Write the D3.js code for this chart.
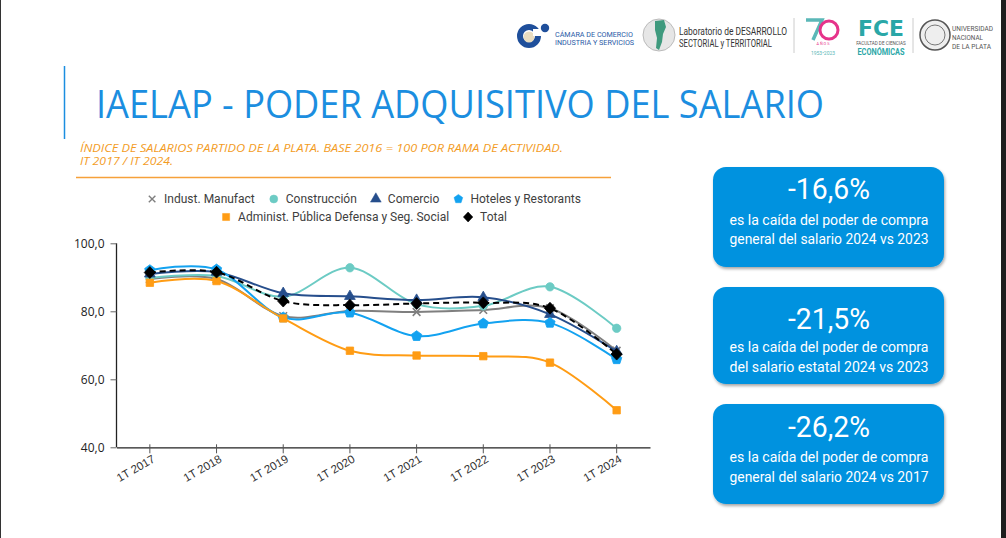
<!DOCTYPE html>
<html><head><meta charset="utf-8">
<script src="https://cdn.jsdelivr.net/npm/d3@7"></script>
<style>body{margin:0;background:#fff}svg{display:block}</style>
</head><body>
<svg id="c" width="1006" height="538"></svg>
<script>
// ---- DATA ----
const periods = ["1T 2017","1T 2018","1T 2019","1T 2020","1T 2021","1T 2022","1T 2023","1T 2024"];
const industManufact = [89.5, 89.5, 78.6, 80.1, 79.8, 80.4, 80.9, 68.4];
const construccion   = [89.8, 90.4, 84.3, 92.8, 82.1, 81.6, 87.2, 75.0];
const comercio       = [91.0, 91.5, 85.3, 84.4, 83.3, 84.1, 79.1, 68.2];
const hoteles        = [92.1, 92.3, 78.2, 79.6, 72.7, 76.4, 76.6, 65.9];
const adminPublica   = [88.4, 88.9, 77.9, 68.4, 67.0, 66.8, 64.9, 50.9];
const total          = [91.4, 91.5, 83.0, 81.8, 82.3, 82.5, 80.9, 67.4];
const seriesNames = ["Indust. Manufact","Construcción","Comercio","Hoteles y Restorants","Administ. Pública Defensa y Seg. Social","Total"];
const yTicks = [40, 60, 80, 100];
const highlightValues = ["-16,6%","-21,5%","-26,2%"];
const highlightLine1 = ["es la caída del poder de compra","es la caída del poder de compra","es la caída del poder de compra"];
const highlightLine2 = ["general del salario 2024 vs 2023","del salario estatal 2024 vs 2023","general del salario 2024 vs 2017"];

// ---- STYLE ----
const svg = d3.select("#c");
const defs = svg.append("defs");
const f = defs.append("filter").attr("id","sh").attr("x","-10%").attr("y","-10%").attr("width","130%").attr("height","140%");
f.append("feDropShadow").attr("dx",1).attr("dy",2).attr("stdDeviation",1.6).attr("flood-color","#000").attr("flood-opacity",0.35);

svg.append("rect").attr("width",1006).attr("height",538).attr("fill","#fff");
svg.append("rect").attr("x",1001).attr("y",0).attr("width",5).attr("height",538).attr("fill","#1e1e1e");
svg.append("rect").attr("x",0).attr("y",0).attr("width",1).attr("height",538).attr("fill","#333");

// ---- LOGOS (approximate) ----
const lg = svg.append("g");
// Camara
lg.append("circle").attr("cx",529).attr("cy",36).attr("r",9).attr("fill","none").attr("stroke","#1f4f9b").attr("stroke-width",6);
lg.append("circle").attr("cx",529).attr("cy",37).attr("r",5.5).attr("fill","#e8dcc0");
lg.append("rect").attr("x",533).attr("y",29).attr("width",10).attr("height",7).attr("fill","#fff");
lg.append("circle").attr("cx",545).attr("cy",28).attr("r",4.2).attr("fill","#1f4f9b");
lg.append("text").attr("x",555).attr("y",37).attr("font-family","Roboto").attr("font-size",7.2).attr("fill","#2a5aa6").text("CÁMARA DE COMERCIO");
lg.append("text").attr("x",555).attr("y",45).attr("font-family","Roboto").attr("font-size",7.2).attr("fill","#2a5aa6").text("INDUSTRIA Y SERVICIOS");
// Laboratorio
lg.append("circle").attr("cx",659).attr("cy",35).attr("r",16).attr("fill","#e6e6e6").attr("stroke","#bbb").attr("stroke-width",1);
lg.append("path").attr("d","M655,21 L664,20 L666,27 L663,34 L662,42 L659,50 L656,48 L657,38 L655,30 Z").attr("fill","#3f9a7e");
lg.append("text").attr("x",679).attr("y",35).attr("font-family","Liberation Sans Narrow, Roboto").attr("font-size",11.5).attr("fill","#333").attr("textLength",108).attr("lengthAdjust","spacingAndGlyphs").text("Laboratorio de DESARROLLO");
lg.append("text").attr("x",679).attr("y",47).attr("font-family","Liberation Sans Narrow, Roboto").attr("font-size",11.5).attr("fill","#333").attr("textLength",93).attr("lengthAdjust","spacingAndGlyphs").text("SECTORIAL y TERRITORIAL");
lg.append("line").attr("x1",794).attr("x2",794).attr("y1",18).attr("y2",53).attr("stroke","#ccc");
// 70 años
lg.append("path").attr("d","M806,20 L822,20 L813,40").attr("fill","none").attr("stroke","#5bb8b8").attr("stroke-width",3.5);
lg.append("circle").attr("cx",829).attr("cy",30).attr("r",9).attr("fill","none").attr("stroke","#e6338a").attr("stroke-width",3);
lg.append("text").attr("x",823).attr("y",45).attr("text-anchor","middle").attr("font-family","Roboto").attr("font-size",3.8).attr("fill","#e6338a").text("A Ñ O S");
lg.append("text").attr("x",823).attr("y",55).attr("text-anchor","middle").attr("font-family","Roboto").attr("font-size",5).attr("fill","#5bb8b8").text("1953•2023");
// FCE
lg.append("text").attr("x",881).attr("y",36).attr("text-anchor","middle").attr("font-family","DejaVu Sans").attr("font-weight","bold").attr("font-size",22).attr("fill","#2aa7a7").attr("textLength",46).attr("lengthAdjust","spacingAndGlyphs").text("FCE");
lg.append("text").attr("x",881).attr("y",45).attr("text-anchor","middle").attr("font-family","Roboto").attr("font-size",4.6).attr("fill","#555").text("FACULTAD DE CIENCIAS");
lg.append("text").attr("x",881).attr("y",55).attr("text-anchor","middle").attr("font-family","Roboto").attr("font-weight","bold").attr("font-size",8.5).attr("fill","#2aa7a7").attr("textLength",47).attr("lengthAdjust","spacingAndGlyphs").text("ECONÓMICAS");
lg.append("line").attr("x1",913).attr("x2",913).attr("y1",18).attr("y2",53).attr("stroke","#ccc");
// UNLP
lg.append("circle").attr("cx",935).attr("cy",35).attr("r",15).attr("fill","#eee").attr("stroke","#555").attr("stroke-width",1.5);
lg.append("circle").attr("cx",935).attr("cy",35).attr("r",10).attr("fill","none").attr("stroke","#777").attr("stroke-width",1);
[["UNIVERSIDAD",41],["NACIONAL",31],["DE LA PLATA",39]].forEach((t,i)=>lg.append("text").attr("x",952).attr("y",31+i*9).attr("font-family","Roboto").attr("font-size",7.3).attr("fill","#555")
  .attr("textLength",t[1]).attr("lengthAdjust","spacingAndGlyphs").text(t[0]));

// ---- TITLE ----
svg.append("line").attr("x1",64.5).attr("x2",64.5).attr("y1",66).attr("y2",139).attr("stroke","#1b8ee0").attr("stroke-width",1.5);
svg.append("text").attr("x",96).attr("y",118).attr("font-family","Open Sans").attr("font-size",38).attr("fill","#1b8ee0")
  .attr("textLength",728).attr("lengthAdjust","spacingAndGlyphs").text("IAELAP - PODER ADQUISITIVO DEL SALARIO");
svg.append("text").attr("x",80).attr("y",152).attr("font-family","Open Sans").attr("font-style","italic").attr("font-size",11.5).attr("fill","#f39c1f")
  .attr("textLength",483).attr("lengthAdjust","spacingAndGlyphs").text("ÍNDICE DE SALARIOS PARTIDO DE LA PLATA. BASE 2016 = 100 POR RAMA DE ACTIVIDAD.");
svg.append("text").attr("x",80).attr("y",165).attr("font-family","Open Sans").attr("font-style","italic").attr("font-size",11.5).attr("fill","#f39c1f")
  .attr("textLength",93).attr("lengthAdjust","spacingAndGlyphs").text("IT 2017 / IT 2024.");
svg.append("line").attr("x1",76).attr("x2",611).attr("y1",177.5).attr("y2",177.5).attr("stroke","#f6a13a").attr("stroke-width",1.5);

// ---- CHART ----
const x = d3.scaleBand().domain(periods).range([116.5, 650]);
const cx = d => x(d) + x.bandwidth()/2;
const y = d3.scaleLinear().domain([40, 100]).range([447.3, 243.3]);

const fmt = v => d3.format(".1f")(v).replace(".", ",");
const gy = svg.append("g").attr("transform","translate(116.5,0)")
  .call(d3.axisLeft(y).tickValues(yTicks).tickFormat(fmt).tickSize(6).tickPadding(6));
gy.select(".domain").attr("stroke","#222").attr("stroke-width",1.3).attr("d","M0,243.3V447.3");
gy.selectAll(".tick line").attr("stroke","#666");
gy.selectAll(".tick text").attr("font-family","Open Sans").attr("font-size",12).attr("fill","#222");

const gx = svg.append("g").attr("transform","translate(0,447.3)")
  .call(d3.axisBottom(x).tickSize(6).tickSizeOuter(0));
gx.select(".domain").attr("stroke","#222").attr("stroke-width",1.3);
gx.selectAll(".tick line").attr("stroke","#555").attr("y1",-3).attr("y2",6);
gx.selectAll(".tick text").attr("font-family","Liberation Sans, Arial").attr("font-size",11.5).attr("fill","#333")
  .attr("text-anchor","end").attr("dy",0).attr("y",0)
  .attr("transform","translate(6,14) rotate(-30)");

// symbols
const pent = {draw(ctx, size){ const r=Math.sqrt(size/2.378); for(let i=0;i<5;i++){const a=-Math.PI/2+i*2*Math.PI/5; const px=r*Math.cos(a), py=r*Math.sin(a); i?ctx.lineTo(px,py):ctx.moveTo(px,py);} ctx.closePath(); }};
const diam = {draw(ctx, size){ const r=Math.sqrt(size/2); ctx.moveTo(0,-r); ctx.lineTo(r*0.95,0); ctx.lineTo(0,r); ctx.lineTo(-r*0.95,0); ctx.closePath(); }};
const series = [
  {name:seriesNames[0], vals:industManufact, color:"#7f7f7f", sym:d3.symbolX, size:40, stroke:true, dash:null},
  {name:seriesNames[1], vals:construccion, color:"#6ccbc4", sym:d3.symbolCircle, size:55, dash:null},
  {name:seriesNames[2], vals:comercio, color:"#264e8c", sym:d3.symbolTriangle, size:50, dash:null},
  {name:seriesNames[3], vals:hoteles, color:"#13a2f0", sym:pent, size:70, dash:null},
  {name:seriesNames[4], vals:adminPublica, color:"#ff9c14", sym:d3.symbolSquare, size:55, dash:null},
  {name:seriesNames[5], vals:total, color:"#000000", sym:diam, size:70, dash:"6,4"}
];
const line = d3.line().x((d,i)=>cx(periods[i])).y(d=>y(d)).curve(d3.curveCardinal.tension(0));
series.forEach(s=>{
  const g = svg.append("g");
  g.append("path").attr("d",line(s.vals)).attr("fill","none").attr("stroke",s.color).attr("stroke-width",2).attr("stroke-dasharray",s.dash);
  g.selectAll("path.m").data(s.vals).join("path").attr("class","m")
    .attr("transform",(d,i)=>`translate(${cx(periods[i])},${y(d)})`)
    .attr("d",d3.symbol(s.sym,s.size))
    .attr("fill",s.stroke?"none":s.color).attr("stroke",s.color).attr("stroke-width",s.stroke?1.6:0.8);
});

// legend
const leg = svg.append("g").attr("font-family","Roboto").attr("font-size",12).attr("fill","#404040");
function legendRow(items, yy, centerX){
  const g = leg.append("g");
  let pos = 0; const parts=[];
  items.forEach(s=>{
    const t = g.append("text").attr("y",yy+4).text(s.name);
    const w = t.node().getComputedTextLength();
    parts.push({s,t,start:pos}); pos += 12 + w + 19;
  });
  const width = pos - 19 + 5;
  const x0 = centerX - width/2 + 5;
  parts.forEach(p=>{
    const mx = x0 + p.start;
    g.append("path").attr("transform",`translate(${mx},${yy})`).attr("d",d3.symbol(p.s.sym,p.s.sym===d3.symbolX?30:50))
      .attr("fill",p.s.stroke?"none":p.s.color).attr("stroke",p.s.color).attr("stroke-width",p.s.stroke?1.4:0.5);
    p.t.attr("x",mx+12);
  });
}
legendRow(series.slice(0,4), 199, 364);
legendRow(series.slice(4), 217, 364);

// ---- HIGHLIGHT BOXES ----
const boxTop = [167, 287, 404];
const boxH = [100, 97, 100];
const numBase = [199, 329, 437];
const sub1 = [225, 352, 462];
const sub2 = [244, 372, 482];
const bf = "Liberation Sans Narrow, Roboto, sans-serif";
highlightValues.forEach((v,i)=>{
  const g = svg.append("g");
  g.append("rect").attr("x",713).attr("y",boxTop[i]).attr("width",231).attr("height",boxH[i]).attr("rx",13).attr("fill","#0092df").attr("filter","url(#sh)");
  g.append("text").attr("x",829).attr("y",numBase[i]).attr("text-anchor","middle").attr("font-family",bf).attr("font-size",29).attr("fill","#fff")
    .attr("textLength",82).attr("lengthAdjust","spacingAndGlyphs").text(v);
  g.append("text").attr("x",829).attr("y",sub1[i]).attr("text-anchor","middle").attr("font-family",bf).attr("font-size",15).attr("fill","#fff")
    .attr("textLength",199).attr("lengthAdjust","spacingAndGlyphs").text(highlightLine1[i]);
  g.append("text").attr("x",829).attr("y",sub2[i]).attr("text-anchor","middle").attr("font-family",bf).attr("font-size",15).attr("fill","#fff")
    .attr("textLength",199).attr("lengthAdjust","spacingAndGlyphs").text(highlightLine2[i]);
});
</script>
</body></html>
